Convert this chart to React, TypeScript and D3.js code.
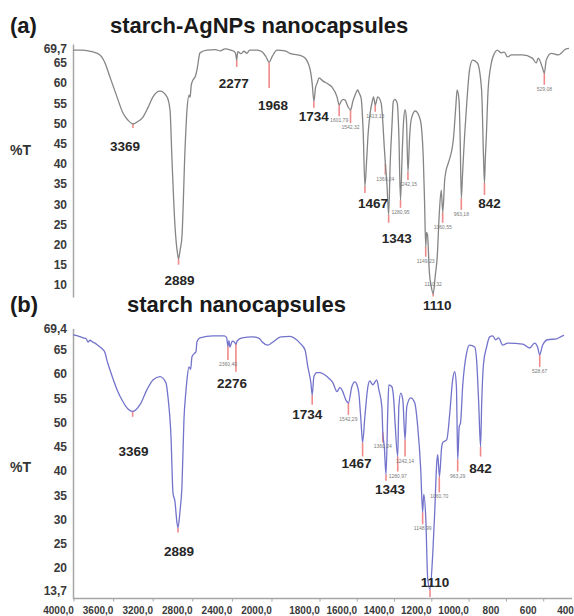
import React, { useRef, useEffect } from 'react';
import * as d3 from 'd3';

// (a) starch-AgNPs nanocapsules: [wavenumber cm-1, %T]
const specA: [number, number][] = [
  [4000, 68.2], [3900, 68.2], [3800, 67.8], [3716, 67.0], [3663, 65.0], [3611, 61.5], [3537, 56.6],
  [3474, 52.6], [3421, 50.8], [3369, 49.9], [3316, 50.5], [3263, 51.6], [3210, 54.0], [3158, 56.6],
  [3084, 58.0], [3011, 56.6], [2979, 53.4], [2958, 41.0], [2926, 24.4], [2900, 17.8], [2889, 16.5],
  [2870, 19.0], [2853, 22.0], [2821, 43.5], [2800, 53.4], [2778, 57.0], [2768, 56.5], [2755, 59.5],
  [2737, 60.8], [2715, 61.5], [2695, 63.3], [2663, 67.5], [2590, 68.2], [2500, 68.3], [2450, 68.0],
  [2400, 68.5], [2340, 68.2], [2300, 67.8], [2287, 67.2], [2277, 65.7], [2265, 67.8], [2230, 67.3],
  [2200, 67.9], [2170, 67.4], [2140, 68.2], [2060, 68.2], [2010, 67.8], [1985, 66.6], [1968, 65.2],
  [1953, 66.5], [1927, 68.2], [1885, 68.0], [1859, 67.4], [1791, 66.6], [1764, 65.0], [1750, 62.5],
  [1743, 60.0], [1734, 55.5], [1725, 59.0], [1717, 60.0], [1707, 61.3], [1686, 60.5], [1660, 59.8],
  [1639, 59.0], [1613, 56.6], [1602, 54.6], [1590, 55.6], [1581, 56.0], [1571, 55.8], [1555, 54.1],
  [1542, 53.4], [1530, 55.5], [1518, 57.1], [1505, 58.3], [1497, 57.5], [1487, 56.3], [1476, 47.7],
  [1467, 34.5], [1458, 41.0], [1450, 47.7], [1440, 52.5], [1429, 55.4], [1422, 56.6], [1413, 54.6],
  [1400, 56.6], [1382, 55.0], [1372, 49.2], [1366, 44.2], [1360, 40.0], [1352, 35.0], [1343, 27.4],
  [1335, 40.0], [1325, 50.1], [1319, 55.4], [1310, 56.0], [1298, 55.0], [1290, 47.7], [1281, 31.0],
  [1272, 43.0], [1265, 50.5], [1257, 53.4], [1250, 51.0], [1242, 38.0], [1233, 47.0], [1225, 51.0],
  [1204, 53.1], [1178, 51.0], [1162, 41.7], [1155, 30.0], [1149, 19.5], [1145, 23.0], [1140, 22.5],
  [1130, 13.0], [1120, 9.5], [1110, 7.8], [1100, 12.0], [1089, 17.0], [1078, 27.9], [1068, 33.5],
  [1060, 28.0], [1050, 36.0], [1042, 38.5], [1031, 40.2], [1005, 45.9], [992, 54.1], [985, 58.3],
  [975, 55.8], [969, 46.0], [963, 31.5], [957, 37.0], [952, 41.7], [936, 54.1], [920, 63.3],
  [904, 65.7], [879, 65.0], [857, 58.3], [847, 41.7], [842, 35.3], [837, 42.0], [833, 45.9],
  [823, 58.3], [806, 65.0], [790, 67.4], [775, 68.2], [754, 67.5], [738, 67.7], [722, 66.5],
  [701, 67.0], [644, 67.0], [592, 66.2], [571, 65.0], [561, 66.2], [540, 64.0], [529, 62.5],
  [519, 65.7], [493, 67.4], [456, 67.0], [415, 68.5], [400, 68.6],
];

// (b) starch nanocapsules
const specB: [number, number][] = [
  [4000, 68.1], [3950, 67.9], [3894, 67.5], [3860, 67.3], [3840, 66.6], [3820, 67.0], [3790, 66.6],
  [3767, 66.4], [3740, 66.0], [3714, 65.6], [3690, 65.2], [3661, 64.4], [3640, 62.8], [3609, 60.9],
  [3534, 56.8], [3471, 54.3], [3418, 52.8], [3369, 52.3], [3291, 53.7], [3217, 56.8], [3154, 58.8],
  [3080, 59.5], [3016, 58.2], [2995, 55.3], [2963, 47.1], [2942, 35.5], [2921, 33.7], [2900, 29.4],
  [2889, 28.3], [2868, 31.7], [2847, 36.8], [2826, 50.6], [2805, 56.5], [2794, 58.8], [2773, 61.5],
  [2755, 61.0], [2741, 63.6], [2720, 64.2], [2699, 64.6], [2688, 66.7], [2656, 67.5], [2519, 67.9],
  [2400, 67.9], [2375, 67.6], [2360, 65.8], [2350, 66.9], [2339, 65.6], [2315, 66.8], [2290, 66.6],
  [2276, 66.2], [2262, 66.9], [2210, 67.5], [2100, 67.7], [2030, 67.4], [2000, 66.7], [1968, 66.0],
  [1940, 66.7], [1900, 67.7], [1852, 67.8], [1799, 66.4], [1772, 65.0], [1757, 61.5], [1741, 58.2],
  [1734, 55.7], [1725, 59.5], [1709, 60.3], [1693, 60.3], [1656, 59.5], [1624, 58.2], [1603, 56.4],
  [1587, 57.2], [1572, 56.4], [1556, 54.7], [1542, 54.1], [1524, 57.4], [1508, 58.4], [1497, 57.8],
  [1487, 56.1], [1476, 50.6], [1467, 45.9], [1455, 51.2], [1439, 57.4], [1429, 58.6], [1413, 57.8],
  [1392, 58.8], [1381, 56.8], [1365, 53.3], [1360, 48.0], [1352, 45.0], [1343, 39.3], [1333, 53.3],
  [1328, 57.8], [1312, 57.4], [1302, 54.7], [1295, 50.0], [1281, 43.0], [1275, 53.3], [1265, 56.1],
  [1254, 54.7], [1242, 46.5], [1233, 53.3], [1212, 55.1], [1191, 54.1], [1175, 49.2], [1159, 40.3],
  [1149, 31.5], [1143, 35.2], [1132, 30.0], [1122, 17.7], [1110, 15.6], [1095, 23.2], [1085, 31.5],
  [1074, 41.8], [1069, 43.4], [1060, 38.9], [1048, 45.0], [1042, 45.9], [1021, 46.5], [1005, 52.0],
  [990, 58.8], [979, 60.5], [970, 57.4], [966, 48.5], [963, 42.4], [955, 49.2], [948, 50.0],
  [937, 57.4], [916, 64.4], [900, 66.0], [873, 65.6], [863, 62.9], [852, 54.1], [842, 45.0],
  [836, 54.1], [826, 62.3], [810, 65.6], [794, 67.7], [778, 67.9], [762, 67.1], [746, 67.5],
  [725, 66.0], [698, 66.4], [619, 66.2], [582, 65.4], [556, 66.4], [540, 65.6], [529, 64.0],
  [513, 66.0], [487, 67.1], [439, 67.3], [408, 67.9], [400, 68.0],
];

// picked peaks: tip of the marker (t), lower end of the marker (end), small tag and/or big name
type Peak = { wn: number; t: number; end: number; tag?: string; name?: string };

const peaksA: Peak[] = [
  { wn: 3369, t: 49.9, end: 48.9, name: '3369' },
  { wn: 2889, t: 16.5, end: 15.0, name: '2889' },
  { wn: 2277, t: 65.7, end: 64.0, name: '2277' },
  { wn: 1968, t: 65.2, end: 58.8, name: '1968' },
  { wn: 1734, t: 55.5, end: 53.9, name: '1734' },
  { wn: 1601.79, t: 54.6, end: 51.8, tag: '1601,79' },
  { wn: 1542.32, t: 53.4, end: 50.1, tag: '1542,32' },
  { wn: 1467, t: 34.5, end: 32.8, name: '1467' },
  { wn: 1413.13, t: 54.6, end: 52.9, tag: '1413,13' },
  { wn: 1360.24, t: 40.0, end: 37.3, tag: '1360,24' },
  { wn: 1343, t: 27.4, end: 25.4, name: '1343' },
  { wn: 1280.95, t: 31.0, end: 29.1, tag: '1280,95' },
  { wn: 1242.15, t: 38.0, end: 36.0, tag: '1242,15' },
  { wn: 1149.23, t: 19.5, end: 17.0, tag: '1149,23' },
  { wn: 1110.32, t: 7.8, end: 7.1, tag: '1110,32', name: '1110' },
  { wn: 1060.55, t: 28.0, end: 25.4, tag: '1060,55' },
  { wn: 963.18, t: 31.5, end: 28.6, tag: '963,18' },
  { wn: 842, t: 35.3, end: 32.3, name: '842' },
  { wn: 529.08, t: 62.5, end: 59.6, tag: '529,08' },
];

const peaksB: Peak[] = [
  { wn: 3369, t: 52.3, end: 51.2, name: '3369' },
  { wn: 2889, t: 28.3, end: 27.3, name: '2889' },
  { wn: 2360.4, t: 65.8, end: 62.9, tag: '2360,40' },
  { wn: 2276, t: 66.2, end: 60.5, name: '2276' },
  { wn: 1734, t: 55.7, end: 53.7, name: '1734' },
  { wn: 1542.29, t: 54.1, end: 51.6, tag: '1542,29' },
  { wn: 1467, t: 45.9, end: 43.0, name: '1467' },
  { wn: 1360.24, t: 48.0, end: 45.9, tag: '1360,24' },
  { wn: 1343, t: 39.3, end: 38.0, name: '1343' },
  { wn: 1280.97, t: 43.0, end: 39.9, tag: '1280,97' },
  { wn: 1242.14, t: 46.5, end: 43.0, tag: '1242,14' },
  { wn: 1148.99, t: 31.5, end: 29.0, tag: '1148,99' },
  { wn: 1110, t: 15.6, end: 14.0, name: '1110' },
  { wn: 1060.7, t: 38.9, end: 35.6, tag: '1060,70' },
  { wn: 963.29, t: 42.4, end: 39.9, tag: '963,29' },
  { wn: 842, t: 45.0, end: 43.0, name: '842' },
  { wn: 528.67, t: 64.0, end: 61.5, tag: '528,67' },
];

const yTicksA = [10, 15, 20, 25, 30, 35, 40, 45, 50, 55, 60, 65, 69.7];
const yTicksB = [13.7, 20, 25, 30, 35, 40, 45, 50, 55, 60, 65, 69.4];
const xTicks = [4000, 3600, 3200, 2800, 2400, 2000, 1800, 1600, 1400, 1200, 1000, 800, 600, 400];

// where the big numbers sit relative to the lower end of their marker
const nameOffA: Record<string, [number, number]> = {
  '3369': [-8, 23], '2889': [1, 20], '2277': [-3, 21], '1968': [4, 22], '1734': [0, 13],
  '1467': [8, 15], '1343': [8, 20], '1110': [4, 13], '842': [5, 13],
};
const nameOffB: Record<string, [number, number]> = {
  '3369': [1, 39], '2889': [1, 23], '2276': [-4, 16], '1734': [-5, 14], '1467': [-6, 11],
  '1343': [4, 13], '1110': [5, -10], '842': [0, 16],
};
const tagOff: Record<string, number> = { '1110,32': -11 };

const W = 574;
const H = 616;
const FONT = '"Liberation Sans", Arial, sans-serif';
const comma = (v: number) => String(v).replace('.', ',');

const App: React.FC = () => {
  const svgRef = useRef<SVGSVGElement>(null);

  useEffect(() => {
    if (!svgRef.current) return;
    const svg = d3.select(svgRef.current);
    svg.selectAll('*').remove();
    svg.append('rect').attr('width', W).attr('height', H).attr('fill', '#fff');

    const panels = [
      {
        spec: specA, peaks: peaksA, offs: nameOffA, ticks: yTicksA,
        x: d3.scaleLinear().domain([4000, 2000, 400]).range([73, 263, 569]),
        y: d3.scaleLinear().domain([7, 69.7]).range([297, 44]),
        color: '#858585', letter: '(a)', title: 'starch-AgNPs nanocapsules',
        titleX: 110, titleY: 33, pctY: 155, topShift: 5, botShift: 0,
      },
      {
        spec: specB, peaks: peaksB, offs: nameOffB, ticks: yTicksB,
        x: d3.scaleLinear().domain([4000, 2000, 400]).range([73, 262, 564]),
        y: d3.scaleLinear().domain([13.7, 69.4]).range([598.5, 328.6]),
        color: '#7373cc', letter: '(b)', title: 'starch nanocapsules',
        titleX: 127, titleY: 312, pctY: 472, topShift: 0, botShift: -8,
      },
    ];

    panels.forEach((p) => {
      const g = svg.append('g');
      const [yMin, yMax] = p.y.domain();

      // titles
      g.append('text').attr('x', 10).attr('y', p.titleY)
        .attr('font-family', FONT).attr('font-size', 22).attr('font-weight', 'bold')
        .attr('fill', '#1a1a1a').text(p.letter);
      g.append('text').attr('x', p.titleX).attr('y', p.titleY)
        .attr('font-family', FONT).attr('font-size', 22).attr('font-weight', 'bold')
        .attr('fill', '#1a1a1a').text(p.title);
      g.append('text').attr('x', 10).attr('y', p.pctY)
        .attr('font-family', FONT).attr('font-size', 14).attr('font-weight', 'bold')
        .attr('fill', '#333').text('%T');

      // y axis
      const ax = g.append('g').attr('transform', `translate(${p.x(4000)},0)`)
        .call(d3.axisLeft(p.y).tickValues(p.ticks).tickSize(0).tickPadding(6)
          .tickFormat((d) => comma(+d)));
      ax.select('.domain').attr('stroke', '#a6a6a6').attr('stroke-width', 1.5);
      ax.selectAll('text').attr('font-family', FONT).attr('font-size', 12)
        .attr('font-weight', 'bold').attr('fill', '#3a3a3a');
      ax.selectAll<SVGTextElement, number>('text').filter((d) => d === yMax).attr('y', p.topShift);
      ax.selectAll<SVGTextElement, number>('text').filter((d) => d === yMin).attr('y', p.botShift);

      // peak markers
      g.selectAll('.mark').data(p.peaks).enter().append('line')
        .attr('x1', (d) => p.x(d.wn)).attr('x2', (d) => p.x(d.wn))
        .attr('y1', (d) => p.y(d.t)).attr('y2', (d) => p.y(d.end))
        .attr('stroke', '#f08a8a').attr('stroke-width', 1.6);

      // spectrum
      const line = d3.line<[number, number]>()
        .x((d) => p.x(d[0])).y((d) => p.y(d[1]))
        .curve(d3.curveMonotoneX);
      g.append('path').datum(p.spec).attr('d', line)
        .attr('fill', 'none').attr('stroke', p.color).attr('stroke-width', 1.3)
        .attr('stroke-linejoin', 'round');

      // small tags
      g.selectAll('.tag').data(p.peaks.filter((d) => d.tag)).enter().append('text')
        .attr('x', (d) => p.x(d.wn))
        .attr('y', (d) => p.y(d.end) + (tagOff[d.tag!] ?? 6))
        .attr('text-anchor', 'middle').attr('font-family', FONT).attr('font-size', 5)
        .attr('fill', '#7a7a7a').text((d) => d.tag!);

      // big names
      g.selectAll('.name').data(p.peaks.filter((d) => d.name)).enter().append('text')
        .attr('x', (d) => p.x(d.wn) + p.offs[d.name!][0])
        .attr('y', (d) => p.y(d.end) + p.offs[d.name!][1])
        .attr('text-anchor', 'middle').attr('font-family', FONT).attr('font-size', 13.5)
        .attr('font-weight', 'bold').attr('fill', '#262626').text((d) => d.name!);
    });

    // bottom axis of panel (b); the printed labels do not sit on the data scale
    const pb = panels[1];
    const y0 = pb.y(13.7);
    svg.append('line').attr('x1', pb.x(4000)).attr('x2', 572).attr('y1', y0).attr('y2', y0)
      .attr('stroke', '#a6a6a6').attr('stroke-width', 1.5);
    const lx = d3.scaleLinear().domain([4000, 2000, 1800, 400]).range([58, 256, 304, 565]);
    const xa = svg.append('g').attr('transform', `translate(0,${y0})`)
      .call(d3.axisBottom(lx).tickValues(xTicks).tickSize(0).tickPadding(8)
        .tickFormat((d) => (+d >= 1000 ? (+d).toFixed(1).replace('.', ',') : String(d))));
    xa.select('.domain').remove();
    xa.selectAll('text').attr('font-family', FONT).attr('font-size', 10)
      .attr('font-weight', 'bold').attr('fill', '#3a3a3a');
    svg.selectAll('.xt').data(xTicks.slice(0, -1)).enter().append('line')
      .attr('x1', (d) => lx(d) + 16).attr('x2', (d) => lx(d) + 16)
      .attr('y1', y0).attr('y2', y0 + 3)
      .attr('stroke', '#a6a6a6').attr('stroke-width', 1);
  }, []);

  return (
    <svg
      ref={svgRef}
      width={W}
      height={H}
      style={{ position: 'absolute', left: 0, top: 0, display: 'block' }}
    />
  );
};

export default App;
